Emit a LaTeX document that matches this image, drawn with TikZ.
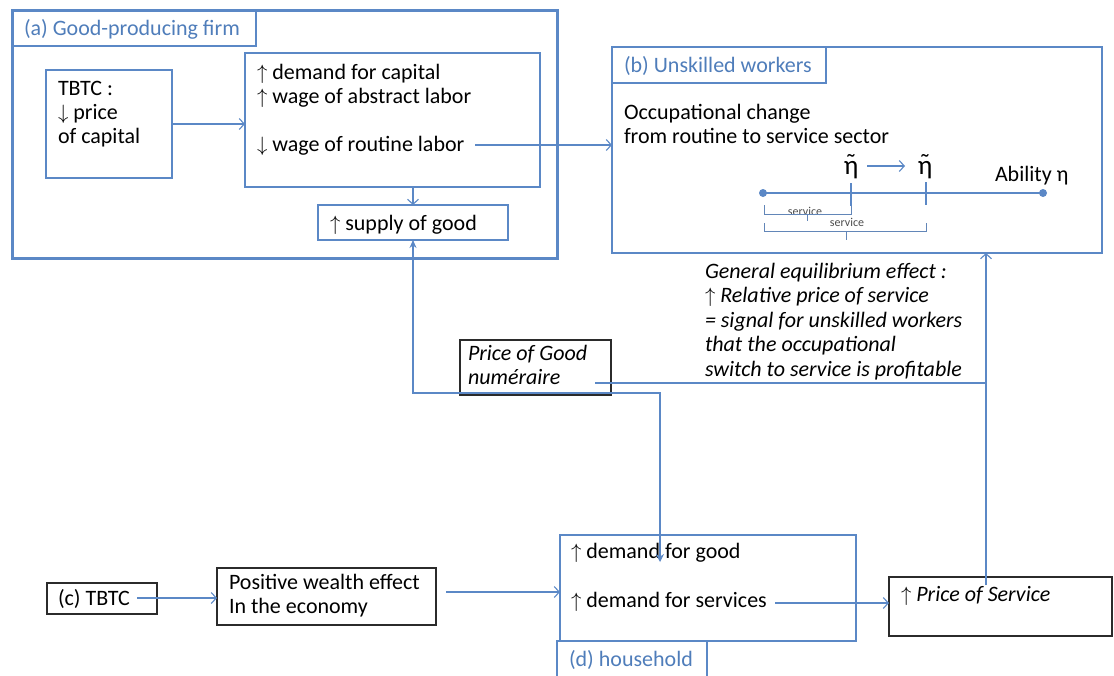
\documentclass[tikz,border=0pt]{standalone}
\usepackage{fontspec}
\setmainfont{Carlito}
\usetikzlibrary{arrows.meta}
\definecolor{bl}{HTML}{5B88C6}
\definecolor{bltxt}{HTML}{4F7DBA}
\definecolor{dk}{HTML}{2B2B2B}
\newcommand{\ua}{$\uparrow$}
\newcommand{\da}{$\downarrow$}
\newcommand{\etatilde}{\ooalign{η\cr\hidewidth\raisebox{0.05em}{˜}\hidewidth\cr}}
\begin{document}
\begin{tikzpicture}[x=1pt,y=-1pt,
  every node/.style={font=\fontsize{22}{24}\selectfont, inner sep=0pt, outer sep=0pt},
  bbox/.style={draw=bl, line width=1.2pt, anchor=north west},
  kbox/.style={draw=dk, line width=1.2pt, anchor=north west},
  txt/.style={anchor=base west, align=left, text=black},
  lbl/.style={anchor=base west, text=bltxt},
  arr/.style={draw=bl, line width=1.1pt, -{Straight Barb[length=5pt,width=11pt]}},
  ln/.style={draw=bl, line width=1.1pt},
  thin/.style={draw=bl!80!gray, line width=0.8pt},
  small/.style={font=\fontsize{12}{14}\selectfont, text=black!70},
]
\useasboundingbox (0,0) rectangle (1114,675);

% (a) Good-producing firm
\node[bbox, line width=3pt, minimum width=545, minimum height=248] (A) at (12,10) {};
\node[bbox, minimum width=244, minimum height=36] (Alab) at (12,10) {};
\node[lbl] (Atxt) at (24,35) {(a) Good-producing firm};

\node[bbox, minimum width=126, minimum height=108] (T) at (46,70) {};
\node[txt, font=\fontsize{22}{24}\selectfont] (Ttxt) at (58,143) {TBTC :\\ \da{} price\\ of capital};

\node[bbox, minimum width=295, minimum height=134] (M) at (245,53) {};
\node[txt] (Mtxt1) at (257,103) {\ua{} demand for capital\\ \ua{} wage of abstract labor};
\node[txt] (Mtxt2) at (257,151) {\da{} wage of routine labor};

\node[bbox, minimum width=190, minimum height=35] (S) at (318,205) {};
\node[txt] (Stxt) at (330,230) {\ua{} supply of good};

% (b) Unskilled workers
\node[bbox, minimum width=490, minimum height=206] (B) at (612,47) {};
\node[bbox, minimum width=214, minimum height=36] (Blab) at (612,47) {};
\node[lbl] (Btxt) at (624,72) {(b) Unskilled workers};
\node[txt] (Otxt) at (624,143) {Occupational change\\ from routine to service sector};

\node[font=\fontsize{27}{30}\selectfont, anchor=base] (e1) at (851,174) {\etatilde};
\node[font=\fontsize{27}{30}\selectfont, anchor=base] (e2) at (925,174) {\etatilde};
\draw[arr] (867,166) -- (905,166);
\node[txt] (abil) at (995,181) {Ability η};

\coordinate (L0) at (763,193);
\coordinate (L1) at (1043,193);
\draw[ln] (L0) -- (L1);
\fill[bl] (L0) circle (4);
\fill[bl] (L1) circle (4);
\draw[ln] (851,183) -- (851,206);
\draw[ln] (926,182) -- (926,205);
\node[small] (sv1) at (805,211) {service};
\draw[thin] (764,205) -- (764,214) -- (851,214) -- (851,206);
\draw[thin] (807,214) -- (807,221);
\node[small] (sv2) at (847,222) {service};
\draw[thin] (764,223) -- (764,231) -- (926,231) -- (926,223);
\draw[thin] (846,231) -- (846,240);

% General equilibrium text
\node[txt, font=\fontsize{22}{24.5}\selectfont\itshape] (ge) at (705,376)
  {General equilibrium effect :\\ {\upshape\ua} Relative price of service\\ = signal for unskilled workers\\ that the occupational\\ switch to service is profitable};

% Price of good
\node[kbox, minimum width=151, minimum height=55] (PG) at (460,340) {};
\node[txt, font=\fontsize{22}{24}\selectfont\itshape] (PGtxt) at (468,384) {Price of Good\\ numéraire};

% (d) household
\node[bbox, minimum width=296, minimum height=106] (H) at (560,535) {};
\node[bbox, minimum width=150, minimum height=40] (Hlab) at (557,641) {};
\node[lbl] (Htxt) at (569,666) {(d) household};
\node[txt] (H1) at (571,558) {\ua{} demand for good};
\node[txt] (H2) at (571,607) {\ua{} demand for services};

% Price of service
\node[kbox, minimum width=223, minimum height=59] (PS) at (889,577) {};
\node[txt, font=\fontsize{22}{24}\selectfont\itshape] (PStxt) at (901,601) {{\upshape\ua} Price of Service};

% (c) TBTC and wealth effect
\node[kbox, minimum width=110, minimum height=31] (C) at (47,583) {};
\node[txt] (Ctxt) at (58,605) {(c) TBTC};
\node[kbox, minimum width=219, minimum height=57] (PW) at (217,568) {};
\node[txt] (PWtxt) at (229,613) {Positive wealth effect\\ In the economy};

% connectors
\draw[arr] (T.east) -- (T.east -| M.west);
\draw[arr] (S.north |- M.south) -- (S.north);
\coordinate (wr) at (475,145);
\draw[arr] (wr) -- (wr -| B.west);
\coordinate (j1) at (413,393);
\coordinate (j2) at (660,393);
\coordinate (hin) at (660,562);
\draw[ln, {Stealth[length=8pt,width=7pt]}-{Stealth[length=8pt,width=8pt]}] (S.south) -- (j1) -- (j2) -- (hin);
\coordinate (pgo) at (595,383);
\coordinate (vx) at (986,585);
\draw[ln] (pgo) -- (pgo -| vx);
\draw[arr] (vx) -- (vx |- B.south);
\coordinate (dso) at (775,603);
\draw[arr] (dso) -- (dso -| PS.west);
\coordinate (pwo) at (446,592);
\draw[arr] (pwo) -- (pwo -| H.west);
\coordinate (co) at (137,598);
\draw[arr] (co) -- (co -| PW.west);
\end{tikzpicture}
\end{document}
